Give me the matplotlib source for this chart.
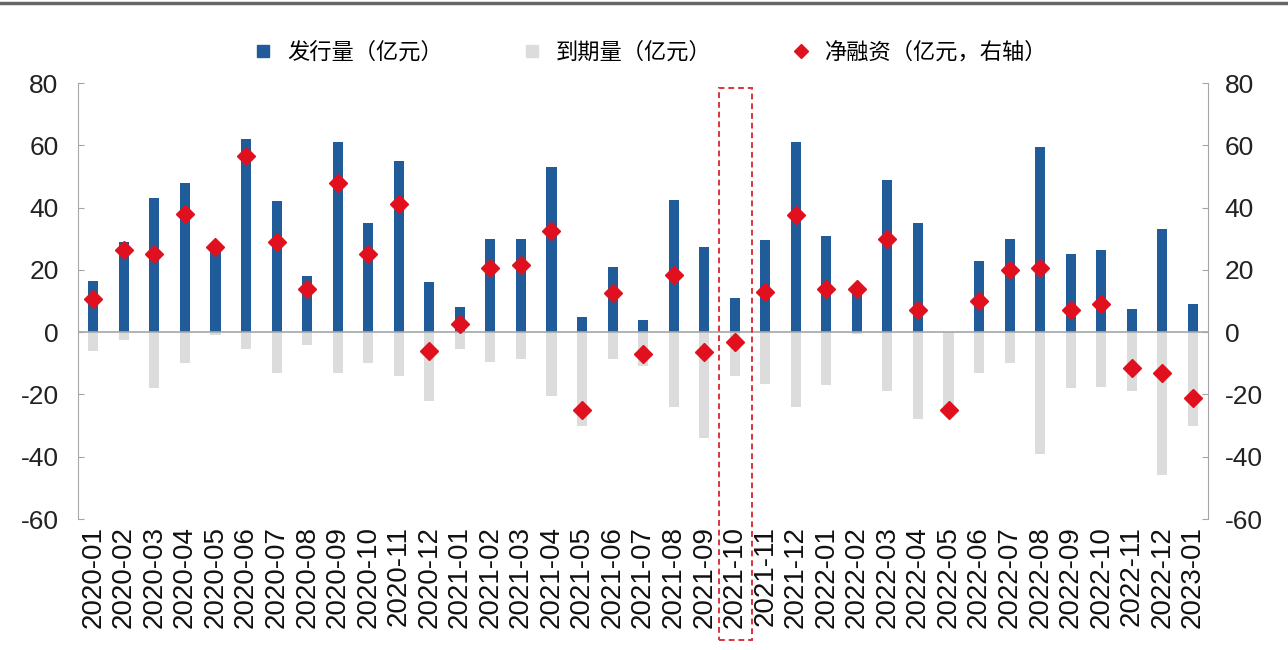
import numpy as np
import matplotlib
matplotlib.use("Agg")
import matplotlib.pyplot as plt
import matplotlib.transforms as mtransforms
from matplotlib.lines import Line2D
from matplotlib.patches import Rectangle

plt.rcParams['font.family'] = ['Liberation Sans', 'Noto Sans CJK SC', 'DejaVu Sans']
plt.rcParams['axes.unicode_minus'] = False

###....................##
###........DATA........##
###....................##
months = ["2020-01", "2020-02", "2020-03", "2020-04", "2020-05", "2020-06",
          "2020-07", "2020-08", "2020-09", "2020-10", "2020-11", "2020-12",
          "2021-01", "2021-02", "2021-03", "2021-04", "2021-05", "2021-06",
          "2021-07", "2021-08", "2021-09", "2021-10", "2021-11", "2021-12",
          "2022-01", "2022-02", "2022-03", "2022-04", "2022-05", "2022-06",
          "2022-07", "2022-08", "2022-09", "2022-10", "2022-11", "2022-12",
          "2023-01"]
issuance = [16.5, 29, 43, 48, 27.5, 62, 42, 18, 61, 35, 55, 16,
            8, 30, 30, 53, 5, 21, 4, 42.5, 27.5, 11, 29.5, 61,
            31, 14, 49, 35, 0, 23, 30, 59.5, 25, 26.5, 7.5, 33,
            9]
maturity = [-6, -2.5, -18, -10, -1, -5.5, -13, -4, -13, -10, -14, -22,
            -5.5, -9.5, -8.5, -20.5, -30, -8.5, -11, -24, -34, -14, -16.5, -24,
            -17, -0.5, -19, -28, -25, -13, -10, -39, -18, -17.5, -19, -46,
            -30]
net = [10.5, 26.5, 25, 38, 27.5, 56.5, 29, 14, 48, 25, 41, -6,
       2.5, 20.5, 21.5, 32.5, -25, 12.5, -7, 18.5, -6.5, -3, 13, 37.5,
       14, 14, 30, 7, -25, 10, 20, 20.5, 7, 9, -11.5, -13,
       -21]
highlight = "2021-10"

lab_issue = "发行量（亿元）"
lab_mat = "到期量（亿元）"
lab_net = "净融资（亿元，右轴）"

c_blue = "#1f5c99"
c_grey = "#dcdcdc"
c_red = "#e0101e"
c_axis = "#a6a6a6"

###....................##
###........PLOT........##
###....................##
fig = plt.figure(figsize=(12.88, 6.5), dpi=100)
ax = fig.add_axes([0.0606, 0.2015, 0.8774, 0.6708])
x = np.arange(len(months))

ax.bar(x, maturity, width=0.33, color=c_grey, zorder=2)
ax.bar(x, issuance, width=0.33, color=c_blue, zorder=3)
ax.axhline(0, color=c_axis, lw=1.2, zorder=4)

ax2 = ax.twinx()
ax2.plot(x, net, linestyle='none', marker='D', markersize=9, color=c_red, zorder=5)

for a in (ax, ax2):
    a.set_ylim(-60, 80)
    a.set_yticks(np.arange(-60, 81, 20))
    a.set_xlim(-0.5, len(months) - 0.5)
    for s in ('top', 'bottom'):
        a.spines[s].set_visible(False)
    a.spines['left'].set_color(c_axis)
    a.spines['right'].set_color(c_axis)
    a.tick_params(axis='y', direction='in', length=4, color=c_axis,
                  labelsize=19, labelcolor='#222222', pad=14)
ax2.spines['left'].set_visible(False)
ax.spines['right'].set_visible(False)
ax2.tick_params(axis='y', pad=12)

ax.set_xticks(x)
ax.set_xticklabels(months, rotation=90, fontsize=20, color='#111111')
ax.tick_params(axis='x', length=0, pad=5)

# red dashed box round the highlighted month
i = months.index(highlight)
trans = mtransforms.blended_transform_factory(ax.transData, fig.transFigure)
box = Rectangle((i - 0.52, 0.015), 1.1, 0.85, transform=trans, fill=False,
                edgecolor='#d9343f', linestyle=(0, (3, 2)), lw=1.4, clip_on=False, zorder=6)
fig.add_artist(box)

# legend
handles = [Line2D([], [], linestyle='none', marker='s', markersize=8, color=c_blue),
           Line2D([], [], linestyle='none', marker='s', markersize=8, color=c_grey),
           Line2D([], [], linestyle='none', marker='D', markersize=7, color=c_red)]
fig.legend(handles, [lab_issue, lab_mat, lab_net], loc='center', bbox_to_anchor=(0.5, 0.92),
           ncol=3, frameon=False, prop={'family': ['Noto Sans CJK SC', 'DejaVu Sans'], 'size': 16},
           handletextpad=0.1, columnspacing=3.0)

fig.add_artist(Line2D([0, 1], [0.995, 0.995], transform=fig.transFigure, color='#666666', lw=2.5))

fig.savefig("out.png", dpi=100, facecolor='white')
